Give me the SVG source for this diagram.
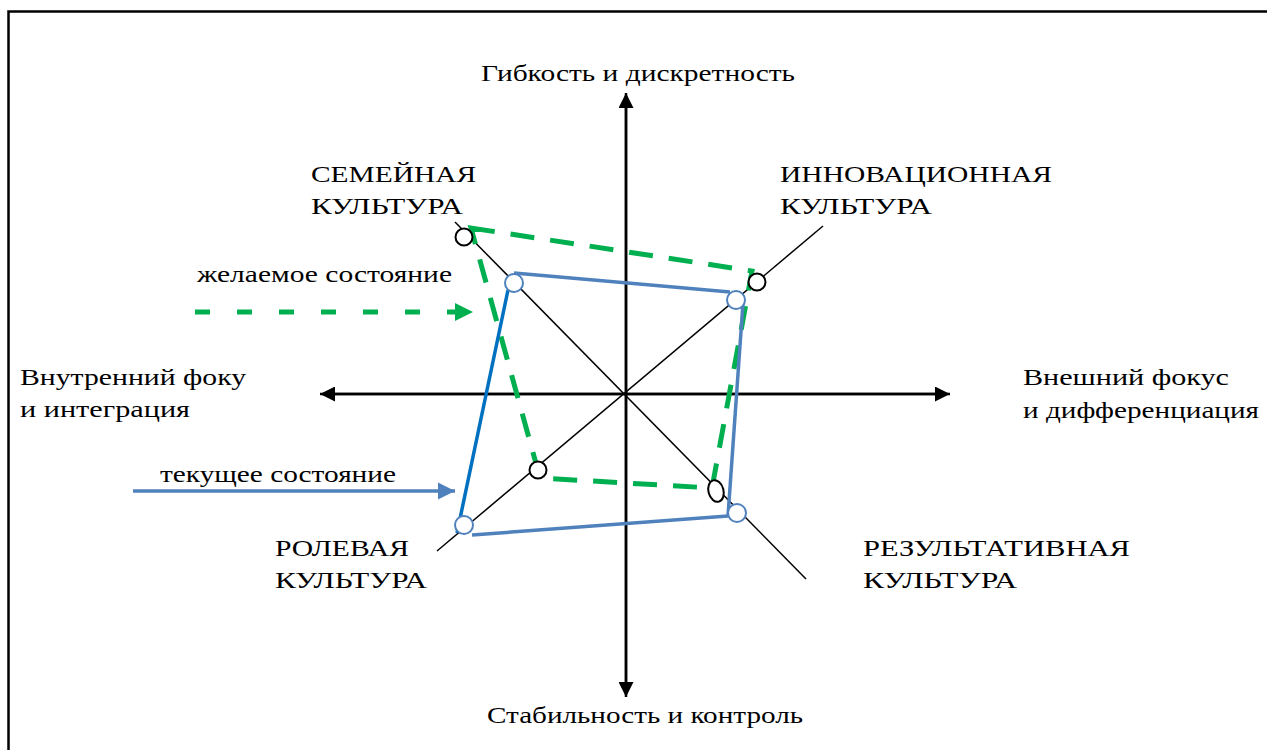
<svg xmlns="http://www.w3.org/2000/svg" width="1267" height="750" viewBox="0 0 1267 750">
<defs>
<style>
.t{font-family:"Liberation Serif","Tinos","Times New Roman","DejaVu Serif",serif;font-size:24px;fill:#000}
.ax{stroke:#000;stroke-width:2.5;fill:none}
.diag{stroke:#000;stroke-width:1.5;fill:none}
.green{stroke:#00B050;stroke-width:5;fill:none;stroke-dasharray:24 16}
.blue{stroke:#4F81BD;stroke-width:3.5;fill:none}
.blue2{stroke:#0070C0;stroke-width:3.5;fill:none}
.bc{fill:#fff;stroke:#000;stroke-width:2}
.oc{fill:#fff;stroke:#4F81BD;stroke-width:2}
</style>
<marker id="ah" viewBox="0 0 10 10" refX="10" refY="5" markerWidth="6" markerHeight="6" orient="auto" markerUnits="strokeWidth"><path d="M0,0 L10,5 L0,10 z" fill="#000"/></marker>
<marker id="ahg" viewBox="0 0 10 10" refX="10" refY="5" markerWidth="5.2" markerHeight="3.6" orient="auto" markerUnits="strokeWidth"><path d="M0,0 L10,5 L0,10 z" fill="#00B050"/></marker>
<marker id="ahb" viewBox="0 0 10 10" refX="10" refY="5" markerWidth="5" markerHeight="5" orient="auto" markerUnits="strokeWidth"><path d="M0,0 L10,5 L0,10 z" fill="#4F81BD"/></marker>
</defs>
<rect width="1267" height="750" fill="#fff"/>
<g id="frame"><path d="M8.5,750 L8.5,11.5 L1267,11.5" fill="none" stroke="#000" stroke-width="2.5"/></g>
<g id="connectors">
<line class="ax" x1="626" y1="694" x2="626" y2="93" marker-end="url(#ah)"/>
<line class="ax" x1="626" y1="96" x2="626" y2="697" marker-end="url(#ah)"/>
<line class="ax" x1="946" y1="394" x2="320" y2="394" marker-end="url(#ah)"/>
<line class="ax" x1="323" y1="394" x2="950" y2="394" marker-end="url(#ah)"/>
<line class="diag" x1="455" y1="222" x2="806" y2="579"/>
<line class="diag" x1="437" y1="551" x2="823" y2="226"/>
<polygon class="green" points="471,228 752,271 712,488 540,478"/>
<line class="green" x1="195" y1="312" x2="473" y2="312" style="stroke-dasharray:15 27" marker-end="url(#ahg)"/>
<line class="blue" x1="133" y1="491" x2="455" y2="491" marker-end="url(#ahb)"/>
<line class="blue" x1="514" y1="273" x2="730" y2="292"/>
<line class="blue" x1="743" y1="303" x2="728" y2="516"/>
<line class="blue" x1="728" y1="516" x2="472" y2="535"/>
<line class="blue2" x1="508" y1="290" x2="457" y2="533"/>
</g>
<g id="markers-black">
<circle class="bc" cx="464" cy="237" r="8.5"/>
<circle class="bc" cx="757" cy="282" r="8.5"/>
<circle class="bc" cx="538" cy="470" r="8.5"/>
<ellipse class="bc" cx="716" cy="491" rx="7.5" ry="11" transform="rotate(-15 716 491)"/>
</g>
<g id="markers-blue">
<circle class="oc" cx="514" cy="283" r="9"/>
<circle class="oc" cx="736" cy="300" r="9"/>
<circle class="oc" cx="464" cy="525" r="9"/>
<circle class="oc" cx="737" cy="513" r="9"/>
</g>
<g id="labels">
<g id="label-top"><text class="t" x="481" y="81" textLength="314" lengthAdjust="spacingAndGlyphs">Гибкость и дискретность</text></g>
<g id="label-bottom"><text class="t" x="487" y="723" textLength="316" lengthAdjust="spacingAndGlyphs">Стабильность и контроль</text></g>
<g id="label-left"><text class="t" x="20" y="385" textLength="226" lengthAdjust="spacingAndGlyphs">Внутренний фоку</text><text class="t" x="20" y="417" textLength="170" lengthAdjust="spacingAndGlyphs">и интеграция</text></g>
<g id="label-right"><text class="t" x="1023" y="385" textLength="206" lengthAdjust="spacingAndGlyphs">Внешний фокус</text><text class="t" x="1023" y="418" textLength="236" lengthAdjust="spacingAndGlyphs">и дифференциация</text></g>
<g id="node-family"><text class="t" x="311" y="182" textLength="165" lengthAdjust="spacingAndGlyphs">СЕМЕЙНАЯ</text><text class="t" x="311" y="214" textLength="152" lengthAdjust="spacingAndGlyphs">КУЛЬТУРА</text></g>
<g id="node-innovation"><text class="t" x="780" y="182" textLength="272" lengthAdjust="spacingAndGlyphs">ИННОВАЦИОННАЯ</text><text class="t" x="780" y="214" textLength="152" lengthAdjust="spacingAndGlyphs">КУЛЬТУРА</text></g>
<g id="node-role"><text class="t" x="275" y="556" textLength="134" lengthAdjust="spacingAndGlyphs">РОЛЕВАЯ</text><text class="t" x="275" y="588" textLength="152" lengthAdjust="spacingAndGlyphs">КУЛЬТУРА</text></g>
<g id="node-result"><text class="t" x="863" y="556" textLength="267" lengthAdjust="spacingAndGlyphs">РЕЗУЛЬТАТИВНАЯ</text><text class="t" x="863" y="588" textLength="154" lengthAdjust="spacingAndGlyphs">КУЛЬТУРА</text></g>
<g id="legend-desired"><text class="t" x="197" y="282" textLength="255" lengthAdjust="spacingAndGlyphs">желаемое состояние</text></g>
<g id="legend-current"><text class="t" x="160" y="482" textLength="236" lengthAdjust="spacingAndGlyphs">текущее состояние</text></g>
</g>
</svg>
